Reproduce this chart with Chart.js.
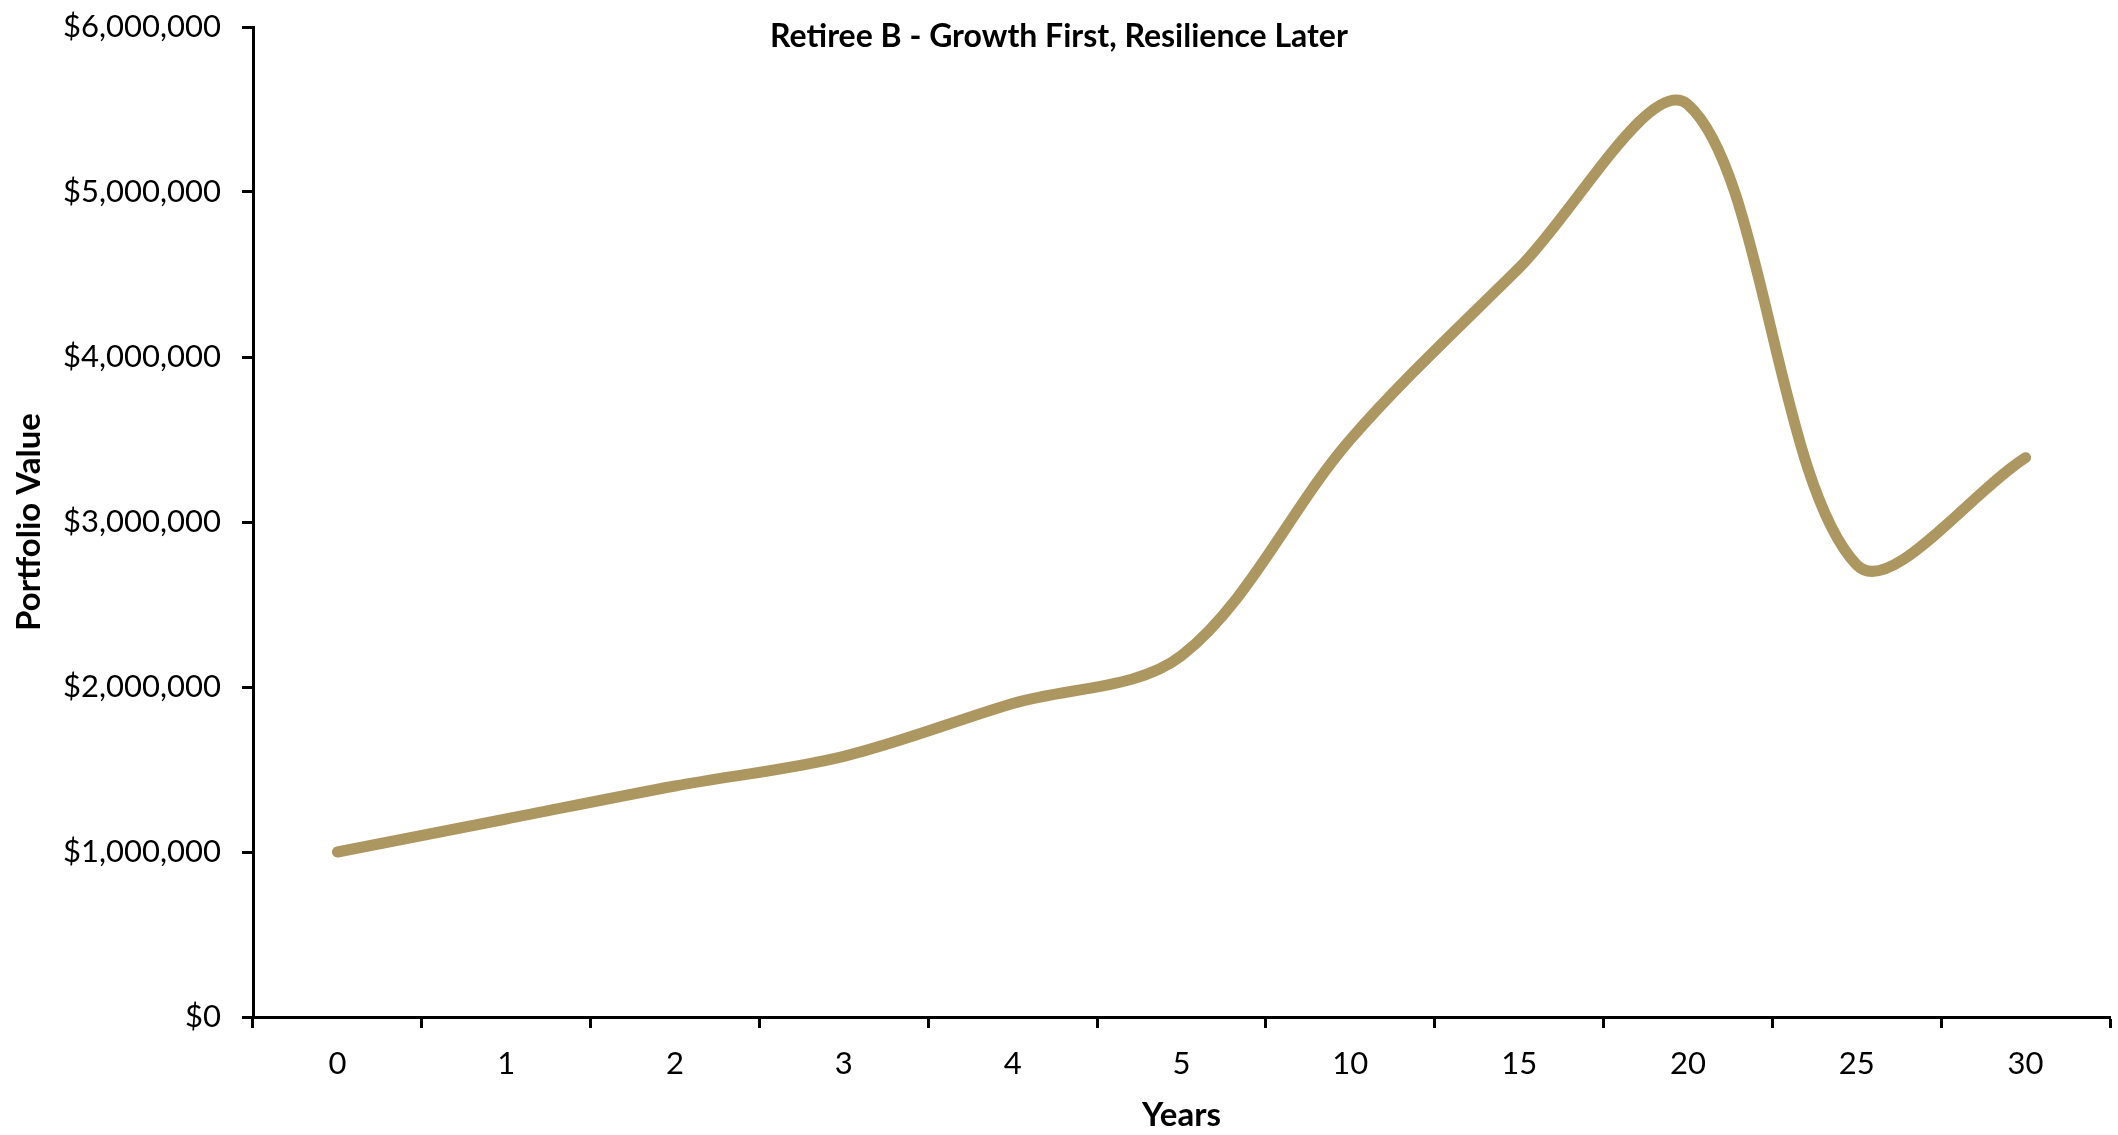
<!DOCTYPE html>
<html>
<head>
<meta charset="utf-8">
<script src="https://cdn.jsdelivr.net/npm/chart.js@4.4.0/dist/chart.umd.min.js"></script>
<style>
  html, body { margin: 0; padding: 0; background: #fff; }
  #wrap { width: 2118px; height: 1135px; }
</style>
</head>
<body>
<div id="wrap"><canvas id="chart" width="2118" height="1135"></canvas></div>
<script>
// Chart data
const years = ["0", "1", "2", "3", "4", "5", "10", "15", "20", "25", "30"];
const portfolioValue = [1000000, 1200000, 1400000, 1580000, 1900000, 2190000, 3500000, 4540000, 5530000, 2740000, 3390000];
const yTicks = [0, 1000000, 2000000, 3000000, 4000000, 5000000, 6000000];

const chartTitle = "Retiree B - Growth First, Resilience Later";
const FONT = "Lato, 'Open Sans', sans-serif";

// Title drawn over the plot, centred on the canvas like the original
const titlePlugin = {
    id: "overlayTitle",
    afterDraw(chart) {
        const c = chart.ctx;
        c.save();
        c.font = "bold 32px " + FONT;
        c.fillStyle = "#000";
        c.textAlign = "center";
        c.textBaseline = "middle";
        c.fillText(chartTitle, chart.width / 2, 37);
        c.restore();
    }
};

const money = v => "$" + Number(v).toLocaleString("en-US");

new Chart(document.getElementById("chart"), {
    type: "line",
    data: {
        labels: years,
        datasets: [{
            label: "Portfolio Value",
            data: portfolioValue,
            borderColor: "#ad9760",
            borderWidth: 11,
            borderCapStyle: "round",
            borderJoinStyle: "round",
            tension: 0.33,
            pointRadius: 0,
            fill: false
        }]
    },
    options: {
        responsive: false,
        animation: false,
        devicePixelRatio: 1,
        layout: { padding: { top: 27, right: 8, left: 0, bottom: 0 } },
        plugins: {
            legend: { display: false },
            tooltip: { enabled: false }
        },
        scales: {
            x: {
                type: "category",
                offset: true,
                grid: {
                    offset: true,
                    drawOnChartArea: false,
                    drawTicks: true,
                    tickLength: 11,
                    tickColor: "#000",
                    tickWidth: 3
                },
                border: { color: "#000", width: 3 },
                ticks: {
                    color: "#000",
                    font: { family: FONT, size: 31 },
                    padding: 17,
                    maxRotation: 0,
                    autoSkip: false
                },
                title: {
                    display: true,
                    text: "Years",
                    color: "#000",
                    font: { family: FONT, size: 33, weight: "bold" },
                    padding: { top: 0, bottom: 0 }
                },
                afterFit: s => { s.height = 118; s.paddingLeft = 0; s.paddingRight = 0; }
            },
            y: {
                min: 0,
                max: 6000000,
                afterBuildTicks: s => { s.ticks = yTicks.map(v => ({ value: v })); },
                grid: {
                    drawOnChartArea: false,
                    drawTicks: true,
                    tickLength: 11,
                    tickColor: "#000",
                    tickWidth: 3
                },
                border: { color: "#000", width: 3 },
                ticks: {
                    color: "#000",
                    font: { family: FONT, size: 31 },
                    padding: 21,
                    callback: v => money(v)
                },
                title: {
                    display: true,
                    text: "Portfolio Value",
                    color: "#000",
                    font: { family: FONT, size: 33, weight: "bold" },
                    padding: { top: 10, bottom: 4 }
                },
                afterFit: s => { s.width = 253; s.paddingTop = 0; s.paddingBottom = 0; }
            }
        }
    },
    plugins: [titlePlugin]
});
</script>
</body>
</html>
